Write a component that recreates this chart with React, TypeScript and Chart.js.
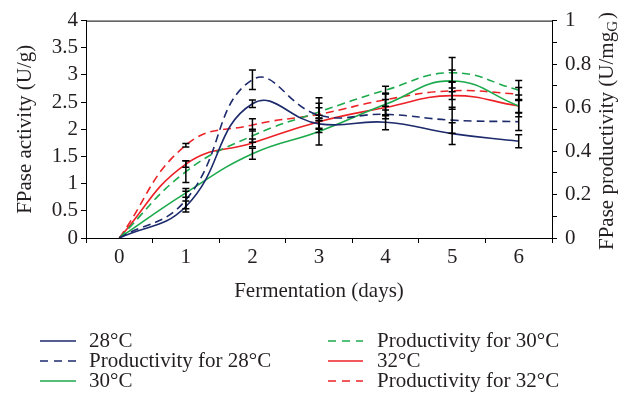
import { useEffect, useRef } from "react";
import { Chart, registerables } from "chart.js";
Chart.register(...registerables);

const days = ["0", "1", "2", "3", "4", "5", "6"];
const activity28 = [0, 0.58, 2.47, 2.1, 2.13, 1.92, 1.78];
const activity28Err = [0, 0.1, 0.07, 0.1, 0.14, 0.2, 0.12];
const productivity28 = [0, 0.175, 0.728, 0.565, 0.569, 0.542, 0.535];
const productivity28Err = [0, 0.04, 0.045, 0.08, 0.02, 0.06, 0.04];
const activity30 = [0, 0.83, 1.55, 1.96, 2.46, 2.89, 2.43];
const activity30Err = [0, 0.08, 0.1, 0.25, 0.2, 0.2, 0.2];
const productivity30 = [0, 0.305, 0.47, 0.58, 0.68, 0.76, 0.68];
const productivity30Err = [0, 0.05, 0.03, 0.04, 0.018, 0.07, 0.045];
const activity32 = [0, 1.36, 1.75, 2.14, 2.4, 2.62, 2.43];
const activity32Err = [0, 0.06, 0.07, 0.12, 0.15, 0.25, 0.12];
const productivity32 = [0, 0.427, 0.52, 0.569, 0.636, 0.677, 0.662];
const productivity32Err = [0, 0.008, 0.028, 0.03, 0.03, 0.04, 0.03];

const BLUE = "#1d2a6c";
const GREEN = "#1caa4c";
const RED = "#ec2227";
const FONT = "'Liberation Serif', 'DejaVu Serif', serif";
const TEXT = "#231f20";
const DASH = [8, 5];
const FS = 21;

const errorBarPlugin = {
  id: "errorBars",
  afterDatasetsDraw(chart: any) {
    const ctx = chart.ctx;
    ctx.save();
    ctx.strokeStyle = "#000";
    ctx.lineWidth = 1.5;
    ctx.setLineDash([]);
    chart.data.datasets.forEach((ds: any, i: number) => {
      const meta = chart.getDatasetMeta(i);
      const yScale = chart.scales[ds.yAxisID];
      ds.data.forEach((v: number, j: number) => {
        const e = ds.errors[j];
        if (!e) return;
        const x = meta.data[j].x;
        const y1 = yScale.getPixelForValue(v + e);
        const y2 = yScale.getPixelForValue(v - e);
        ctx.beginPath();
        ctx.moveTo(x, y1);
        ctx.lineTo(x, y2);
        ctx.moveTo(x - 3.5, y1);
        ctx.lineTo(x + 3.5, y1);
        ctx.moveTo(x - 3.5, y2);
        ctx.lineTo(x + 3.5, y2);
        ctx.stroke();
      });
    });
    ctx.restore();
  },
};

const framePlugin = {
  id: "frame",
  afterDraw(chart: any) {
    const { ctx, chartArea } = chart;
    ctx.save();
    ctx.strokeStyle = "#000";
    ctx.lineWidth = 1;
    ctx.beginPath();
    ctx.moveTo(chartArea.left, chartArea.top + 0.5);
    ctx.lineTo(chartArea.right, chartArea.top + 0.5);
    ctx.stroke();

    // right axis title with subscript
    const cx = 607;
    const cy = 131;
    ctx.translate(cx, cy);
    ctx.rotate(-Math.PI / 2);
    ctx.fillStyle = TEXT;
    ctx.textBaseline = "alphabetic";
    ctx.textAlign = "left";
    const main = "FPase productivity (U/mg";
    const sub = "G";
    const close = ")";
    ctx.font = `${FS}px ${FONT}`;
    const w1 = ctx.measureText(main).width;
    const w3 = ctx.measureText(close).width;
    ctx.font = `15px ${FONT}`;
    const w2 = ctx.measureText(sub).width;
    const total = w1 + w2 + w3 + 2;
    let x = -total / 2;
    ctx.font = `${FS}px ${FONT}`;
    ctx.fillText(main, x, 6);
    x += w1;
    ctx.font = `15px ${FONT}`;
    ctx.fillText(sub, x, 10);
    x += w2 + 2;
    ctx.font = `${FS}px ${FONT}`;
    ctx.fillText(close, x, 6);
    ctx.restore();

    // legend
    ctx.save();
    ctx.font = `${FS}px ${FONT}`;
    ctx.textBaseline = "middle";
    ctx.textAlign = "left";
    const cols = [
      { x0: 40, x1: 76, tx: 89 },
      { x0: 328, x1: 363, tx: 377 },
    ];
    const rows = [341, 361, 381];
    chart.data.datasets.forEach((ds: any, i: number) => {
      const c = cols[Math.floor(i / 3)];
      const y = rows[i % 3];
      ctx.strokeStyle = ds.borderColor;
      ctx.lineWidth = 1.6;
      ctx.setLineDash(ds.borderDash && ds.borderDash.length ? [8, 6] : []);
      ctx.beginPath();
      ctx.moveTo(c.x0, y);
      ctx.lineTo(c.x1, y);
      ctx.stroke();
      ctx.setLineDash([]);
      ctx.fillStyle = TEXT;
      ctx.fillText(ds.label, c.tx, y);
    });
    ctx.restore();
  },
};

export default function App() {
  const ref = useRef<HTMLCanvasElement>(null);
  useEffect(() => {
    if (!ref.current) return;
    const mk = (label: string, data: number[], errors: number[], color: string, dashed: boolean) => ({
      label,
      data,
      errors,
      borderColor: color,
      backgroundColor: color,
      borderWidth: 1.6,
      borderDash: dashed ? DASH : [],
      pointRadius: 0,
      tension: 0.45,
      fill: false,
      yAxisID: dashed ? "y1" : "y",
    });
    const fmt = (v: any) => String(Math.round(Number(v) * 10) / 10);
    const chart = new Chart(ref.current, {
      type: "line",
      data: {
        labels: days,
        datasets: [
          mk("28°C", activity28, activity28Err, BLUE, false),
          mk("Productivity for 28°C", productivity28, productivity28Err, BLUE, true),
          mk("30°C", activity30, activity30Err, GREEN, false),
          mk("Productivity for 30°C", productivity30, productivity30Err, GREEN, true),
          mk("32°C", activity32, activity32Err, RED, false),
          mk("Productivity for 32°C", productivity32, productivity32Err, RED, true),
        ] as any,
      },
      options: {
        responsive: false,
        animation: false,
        devicePixelRatio: 1,
        layout: { padding: { left: 0, right: 0, top: 16, bottom: 93 } },
        plugins: { legend: { display: false }, tooltip: { enabled: false } },
        scales: {
          x: {
            type: "category",
            offset: true,
            grid: { offset: true, drawOnChartArea: false, drawTicks: true, tickLength: 5, color: "#000" },
            border: { display: true, color: "#000", width: 1 },
            ticks: { color: TEXT, font: { family: FONT, size: FS }, padding: 2, maxRotation: 0, autoSkip: false },
            title: { display: true, text: "Fermentation (days)", color: TEXT, font: { family: FONT, size: FS }, padding: { top: 0, bottom: 4 } },
            afterFit: (s: any) => { s.height = 70; },
          },
          y: {
            type: "linear",
            position: "left",
            min: 0,
            max: 4,
            ticks: { stepSize: 0.5, color: TEXT, font: { family: FONT, size: FS }, padding: 3, callback: fmt, autoSkip: false },
            grid: { drawOnChartArea: false, drawTicks: true, tickLength: 5, color: "#000" },
            border: { display: true, color: "#000", width: 1 },
            title: { display: true, text: "FPase activity (U/g)", color: TEXT, font: { family: FONT, size: FS }, padding: { top: 13, bottom: 0 } },
            afterFit: (s: any) => { s.width = 86; },
          },
          y1: {
            type: "linear",
            position: "right",
            min: 0,
            max: 1,
            ticks: {
              stepSize: 0.1,
              color: TEXT,
              font: { family: FONT, size: FS },
              padding: 8,
              autoSkip: false,
              callback: (v: any) => {
                const k = Math.round(Number(v) * 10);
                return k % 2 === 0 ? String(k / 10) : "";
              },
            },
            grid: { drawOnChartArea: false, drawTicks: true, tickLength: 5, color: "#000" },
            border: { display: true, color: "#000", width: 1 },
            afterFit: (s: any) => { s.width = 76; },
          },
        },
      } as any,
      plugins: [errorBarPlugin, framePlugin],
    });
    return () => chart.destroy();
  }, []);
  return (
    <div style={{ position: "absolute", left: 0, top: 0, width: 628, height: 401, background: "#fff" }}>
      <canvas ref={ref} width={628} height={401} style={{ width: 628, height: 401, display: "block" }} />
    </div>
  );
}
